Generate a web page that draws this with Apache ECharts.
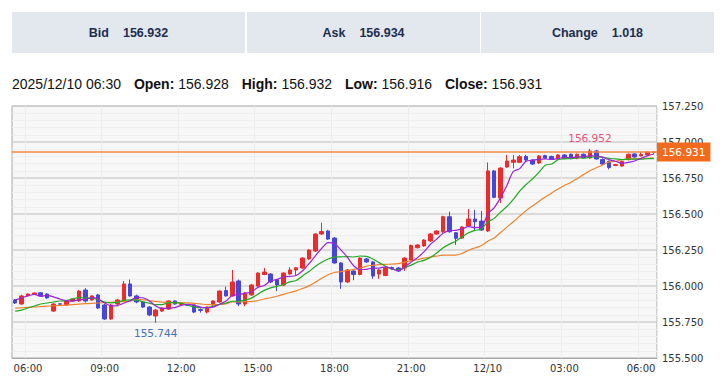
<!DOCTYPE html>
<html>
<head>
<meta charset="utf-8">
<script src="https://cdn.jsdelivr.net/npm/echarts@6/dist/echarts.min.js"></script>
<style>
  body { margin: 0; background: #fff; }
  #main { position: absolute; left: 0; top: 0; width: 720px; height: 378px; }
  .box {
    position: absolute; top: 12px; height: 41px; width: 233px;
    background: #e3e8ef; color: #1d2d4e;
    font: bold 12.5px "Liberation Sans", Arial, sans-serif;
    display: flex; align-items: center; justify-content: center;
  }
  .box span { margin-left: 14px; }
  #info {
    position: absolute; left: 12px; top: 76px;
    font: 14px "Liberation Sans", Arial, sans-serif; color: #111; white-space: nowrap;
  }
  #info b { margin-left: 9px; }
</style>
</head>
<body>
<div id="main"></div>
<div class="box" style="left:12px">Bid<span>156.932</span></div>
<div class="box" style="left:247px">Ask<span>156.934</span></div>
<div class="box" style="left:481px">Change<span>1.018</span></div>
<div id="info">2025/12/10 06:30 <b>Open:</b> 156.928 <b>High:</b> 156.932 <b>Low:</b> 156.916 <b>Close:</b> 156.931</div>
<script>
// 15分足 2025/12/09 05:30 ～ 2025/12/10 06:30
var opens = [
  155.903, 155.875, 155.934, 155.941, 155.953, 155.944, 155.826, 155.876, 155.868, 155.896,
  155.896, 155.972, 155.903, 155.938, 155.868, 155.771, 155.875, 155.903, 156.014, 155.931,
  155.889, 155.854, 155.792, 155.826, 155.840, 155.896, 155.872, 155.870, 155.868, 155.836,
  155.819, 155.868, 155.889, 155.968, 155.931, 156.035, 155.875, 155.938, 156.000, 156.080,
  156.083, 156.042, 156.007, 156.083, 156.111, 156.125, 156.188, 156.243, 156.361, 156.382,
  156.333, 156.160, 156.028, 156.104, 156.080, 156.188, 156.167, 156.083, 156.073, 156.128,
  156.125, 156.125, 156.180, 156.266, 156.278, 156.313, 156.361, 156.377, 156.481, 156.370,
  156.333, 156.417, 156.465, 156.451, 156.382, 156.799, 156.611, 156.826, 156.859, 156.859,
  156.900, 156.875, 156.854, 156.905, 156.900, 156.882, 156.910, 156.915, 156.887, 156.915,
  156.889, 156.938, 156.878, 156.865, 156.837, 156.833, 156.878, 156.917, 156.903, 156.910,
  156.928
];
var highs = [
  155.910, 155.940, 155.948, 155.955, 155.958, 155.950, 155.880, 155.882, 155.900, 155.914,
  155.972, 155.985, 155.936, 155.945, 155.875, 155.875, 155.910, 156.035, 156.045, 155.940,
  155.895, 155.860, 155.840, 155.852, 155.900, 155.900, 155.884, 155.875, 155.872, 155.845,
  155.858, 155.900, 155.970, 155.995, 156.111, 156.045, 155.957, 156.012, 156.095, 156.125,
  156.090, 156.048, 156.095, 156.130, 156.132, 156.200, 156.256, 156.367, 156.440, 156.390,
  156.340, 156.165, 156.118, 156.110, 156.200, 156.195, 156.173, 156.118, 156.133, 156.135,
  156.132, 156.200, 156.288, 156.290, 156.325, 156.368, 156.388, 156.488, 156.516, 156.375,
  156.416, 156.535, 156.528, 156.520, 156.858, 156.805, 156.825, 156.910, 156.910, 156.910,
  156.910, 156.880, 156.910, 156.912, 156.905, 156.916, 156.916, 156.920, 156.920, 156.920,
  156.952, 156.945, 156.887, 156.870, 156.848, 156.870, 156.920, 156.922, 156.930, 156.933,
  156.932
];
var lows = [
  155.875, 155.870, 155.930, 155.938, 155.930, 155.912, 155.820, 155.868, 155.862, 155.890,
  155.890, 155.885, 155.898, 155.840, 155.765, 155.765, 155.860, 155.898, 155.925, 155.880,
  155.848, 155.790, 155.744, 155.820, 155.835, 155.870, 155.865, 155.860, 155.812, 155.815,
  155.810, 155.862, 155.884, 155.926, 155.925, 155.860, 155.860, 155.933, 155.995, 156.075,
  156.020, 155.965, 156.000, 156.078, 156.070, 156.120, 156.180, 156.236, 156.355, 156.320,
  156.155, 155.980, 156.020, 156.040, 156.075, 156.160, 156.050, 156.050, 156.068, 156.112,
  156.098, 156.105, 156.175, 156.260, 156.272, 156.307, 156.356, 156.370, 156.370, 156.285,
  156.327, 156.410, 156.389, 156.383, 156.375, 156.610, 156.576, 156.820, 156.817, 156.855,
  156.868, 156.840, 156.848, 156.882, 156.877, 156.877, 156.882, 156.880, 156.880, 156.886,
  156.884, 156.877, 156.840, 156.810, 156.832, 156.828, 156.872, 156.890, 156.900, 156.905,
  156.916
];
var closes = [
  155.882, 155.931, 155.944, 155.951, 155.933, 155.917, 155.875, 155.874, 155.896, 155.910,
  155.965, 155.896, 155.931, 155.847, 155.771, 155.868, 155.903, 156.014, 155.931, 155.889,
  155.854, 155.799, 155.833, 155.847, 155.896, 155.875, 155.878, 155.866, 155.819, 155.830,
  155.854, 155.896, 155.965, 155.931, 156.028, 155.875, 155.951, 156.007, 156.090, 156.097,
  156.028, 156.007, 156.090, 156.111, 156.127, 156.194, 156.250, 156.361, 156.378, 156.326,
  156.160, 156.028, 156.111, 156.080, 156.194, 156.167, 156.069, 156.111, 156.127, 156.122,
  156.104, 156.194, 156.281, 156.285, 156.319, 156.361, 156.382, 156.481, 156.377, 156.331,
  156.410, 156.465, 156.447, 156.389, 156.799, 156.616, 156.819, 156.868, 156.875, 156.898,
  156.875, 156.847, 156.903, 156.887, 156.882, 156.910, 156.887, 156.887, 156.915, 156.891,
  156.938, 156.882, 156.847, 156.823, 156.843, 156.865, 156.915, 156.896, 156.913, 156.929,
  156.931
];
// 表示範囲より前の足を含む移動平均の先頭部分（画面から読み取り）
var ma5Lead = [155.903, 155.917, 155.931, 155.941];
var ma10Lead = [155.826, 155.833, 155.847, 155.861, 155.875, 155.882, 155.889, 155.896, 155.899];
var ma20Lead = [
  155.847, 155.849, 155.852, 155.854, 155.857, 155.860, 155.863, 155.865, 155.868, 155.871,
  155.874, 155.877, 155.880, 155.882, 155.885, 155.887, 155.889, 155.892, 155.894
];
var yTicks = { min: 155.5, max: 157.25, interval: 0.25 };

var pad = function(n) { return (n < 10 ? '0' : '') + n; };

// カテゴリ（時刻）
var categories = [];
var start = 5 * 60 + 30;
for (var i = 0; i < opens.length; i++) {
    var t = start + i * 15;
    var day = t >= 1440 ? '12/10' : '12/09';
    var m = t % 1440;
    categories.push(day + ' ' + pad(Math.floor(m / 60)) + ':' + pad(m % 60));
}

var candleData = opens.map(function(o, i) {
    return [o, closes[i], lows[i], highs[i]];
});

var calc_ma = function(period, lead) {
    return closes.map(function(c, i) {
        if (i < period - 1) return lead[i];
        var sum = 0;
        for (var k = i - period + 1; k <= i; k++) sum += closes[k];
        return +(sum / period).toFixed(4);
    });
};

var showTime = function(index, value) {
    var hm = value.slice(6);
    return hm.slice(3) === '00' && parseInt(hm, 10) % 3 === 0;
};

var lastClose = closes[closes.length - 1];
var axisFont = 'DejaVu Sans, Verdana, sans-serif';

var myChart = echarts.init(document.getElementById('main'), null, { renderer: 'svg' });
var option = {
    animation: false,
    grid: {
        left: 12, right: 63, top: 106, bottom: 20,
        show: true, backgroundColor: '#f7f7f7', borderColor: '#a8a8a8', borderWidth: 1
    },
    xAxis: {
        type: 'category',
        data: categories,
        boundaryGap: true,
        axisLine: { lineStyle: { color: '#a8a8a8' } },
        axisTick: { inside: true, length: 4, alignWithLabel: true, interval: showTime, lineStyle: { color: '#999' } },
        axisLabel: {
            interval: showTime, color: '#333', fontSize: 10, fontFamily: axisFont, margin: 5,
            formatter: function(v) { return v.slice(6) === '00:00' ? v.slice(0, 5) : v.slice(6); }
        },
        splitLine: { show: true, interval: showTime, lineStyle: { color: '#ececec' } }
    },
    yAxis: {
        type: 'value',
        position: 'right',
        min: yTicks.min, max: yTicks.max, interval: yTicks.interval,
        axisLine: { show: false },
        axisTick: { show: false },
        axisLabel: {
            color: '#333', fontSize: 10, fontFamily: axisFont, margin: 5,
            formatter: function(v) { return v.toFixed(3); }
        },
        splitLine: { lineStyle: { color: '#cfcfcf', width: 1.5 } },
        minorTick: { show: false, splitNumber: 5 },
        minorSplitLine: { show: true, lineStyle: { color: '#efefef' } }
    },
    series: [
        {
            type: 'candlestick',
            data: candleData,
            barWidth: 4,
            itemStyle: {
                color: '#ee2b2b', color0: '#4646d8',
                borderColor: '#ee2b2b', borderColor0: '#4646d8', borderWidth: 1
            },
            markPoint: {
                symbol: 'circle', symbolSize: 0,
                data: [
                    { type: 'max', valueDim: 'highest',
                      label: { position: 'top', distance: 5, color: '#e5547a' } },
                    { type: 'min', valueDim: 'lowest',
                      label: { position: 'bottom', distance: 5, color: '#4a70b4' } }
                ],
                label: {
                    fontSize: 10.5, fontFamily: axisFont,
                    formatter: function(p) { return p.value.toFixed(3); }
                }
            },
            markLine: {
                silent: true,
                symbol: ['none', 'none'],
                data: [{ yAxis: lastClose }],
                lineStyle: { color: '#f08a45', width: 1.5, type: 'solid' },
                label: {
                    position: 'end', distance: 0,
                    formatter: lastClose.toFixed(3),
                    color: '#fff', backgroundColor: '#f26b1c',
                    fontSize: 10.5, fontFamily: axisFont, padding: [4, 5]
                }
            }
        },
        {
            type: 'line', data: calc_ma(20, ma20Lead), smooth: 0.3, showSymbol: false,
            lineStyle: { color: '#f0822e', width: 1.2 }
        },
        {
            type: 'line', data: calc_ma(10, ma10Lead), smooth: 0.3, showSymbol: false,
            lineStyle: { color: '#22a822', width: 1.2 }
        },
        {
            type: 'line', data: calc_ma(5, ma5Lead), smooth: 0.3, showSymbol: false,
            lineStyle: { color: '#9b24d4', width: 1.2 }
        }
    ]
};
myChart.setOption(option);
</script>
</body>
</html>
